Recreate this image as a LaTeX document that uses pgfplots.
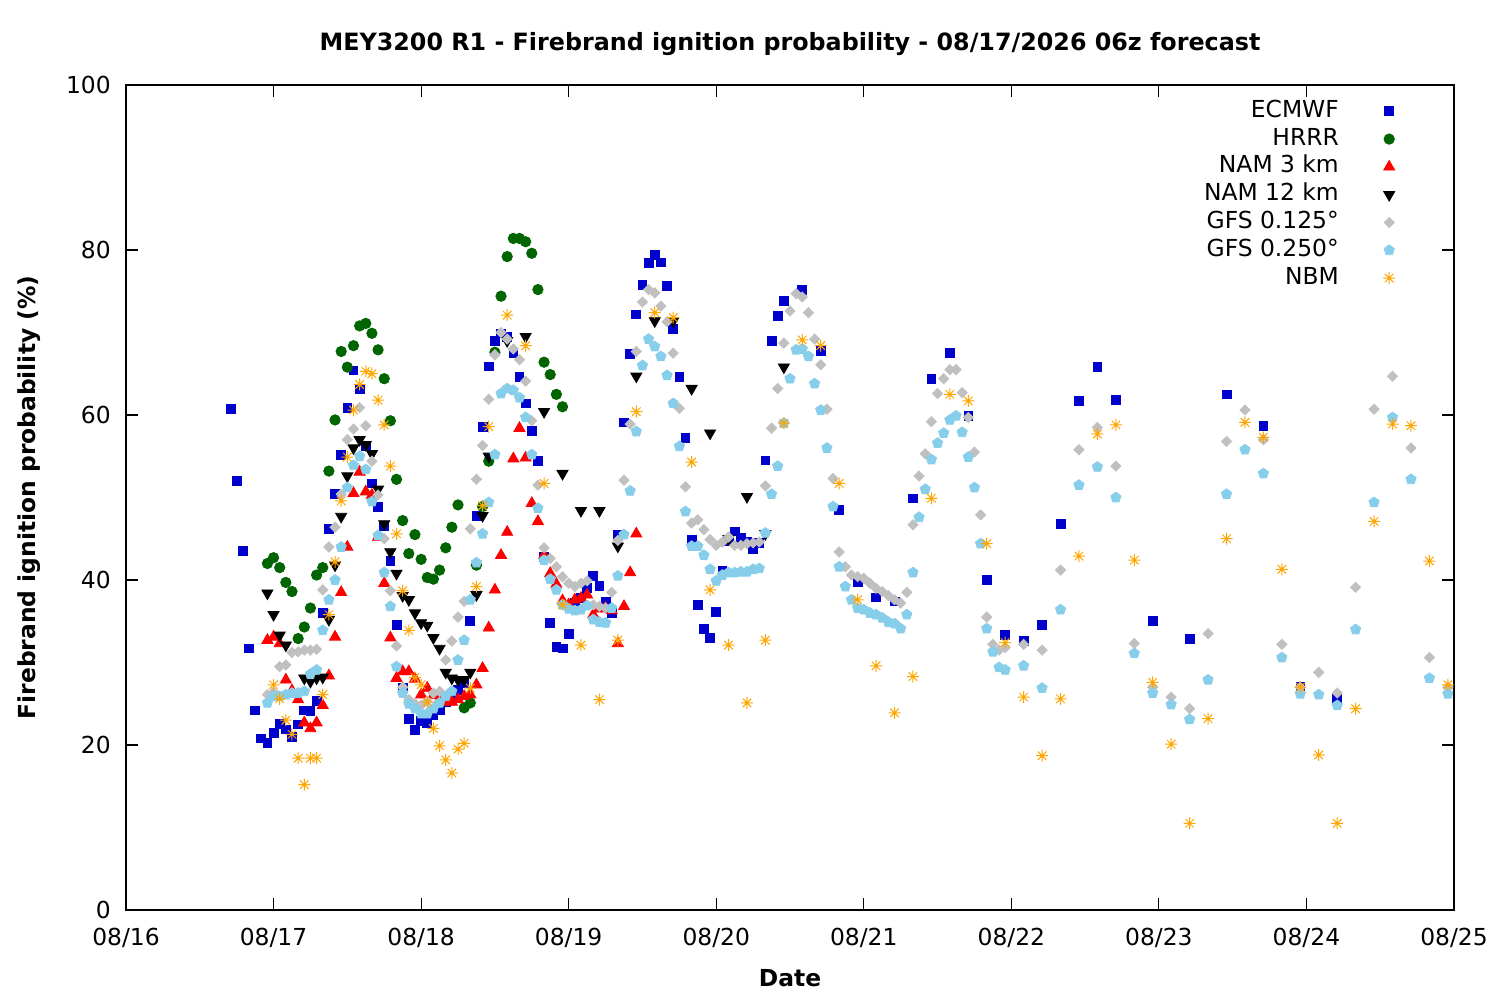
\documentclass[border=0pt]{standalone}
\usepackage{fontspec}
\setmainfont{DejaVu Sans}
\usepackage{pgfplots}
\pgfplotsset{compat=1.18}
\definecolor{ecm}{RGB}{0,0,205}
\definecolor{hrrr}{RGB}{0,100,0}
\definecolor{nam3}{RGB}{255,0,0}
\definecolor{gfsa}{RGB}{192,192,192}
\definecolor{gfsb}{RGB}{135,206,235}
\definecolor{nbm}{RGB}{255,165,0}
\pgfdeclareplotmark{ast8}{%
  \pgfpathmoveto{\pgfpoint{-\pgfplotmarksize}{0pt}}\pgfpathlineto{\pgfpoint{\pgfplotmarksize}{0pt}}%
  \pgfpathmoveto{\pgfpoint{0pt}{-\pgfplotmarksize}}\pgfpathlineto{\pgfpoint{0pt}{\pgfplotmarksize}}%
  \pgfpathmoveto{\pgfpoint{-0.707\pgfplotmarksize}{-0.707\pgfplotmarksize}}\pgfpathlineto{\pgfpoint{0.707\pgfplotmarksize}{0.707\pgfplotmarksize}}%
  \pgfpathmoveto{\pgfpoint{-0.707\pgfplotmarksize}{0.707\pgfplotmarksize}}\pgfpathlineto{\pgfpoint{0.707\pgfplotmarksize}{-0.707\pgfplotmarksize}}%
  \pgfusepathqstroke}
\newcommand{\fs}{\fontsize{11.7}{14}\selectfont}
\begin{document}
\begin{tikzpicture}
\useasboundingbox (-63pt,-45pt) rectangle (687pt,455pt);
\begin{axis}[
  scale only axis, width=664pt, height=412.5pt,
  xmin=0, xmax=216, ymin=0, ymax=100,
  xtick={0,24,...,216},
  xticklabels={08/16,08/17,08/18,08/19,08/20,08/21,08/22,08/23,08/24,08/25},
  ytick={0,20,...,100},
  tick align=inside, major tick length=5.8pt,
  axis line style={line width=0.6pt},
  every tick/.style={black, line width=0.6pt},
  tick label style={font=\fs},
  /pgf/number format/assume math mode=true,
  xticklabel style={yshift=-5.6pt},
  yticklabel style={xshift=-4.1pt},
  title={MEY3200 R1 - Firebrand ignition probability - 08/17/2026 06z forecast},
  title style={font=\bfseries\fontsize{11.9}{14}\selectfont, at={(axis description cs:0.5,1)}, anchor=base, yshift=11pt},
  xlabel={Date},
  xlabel style={font=\bfseries\fs, at={(axis description cs:0.5,0)}, anchor=base, yshift=-38.5pt},
  ylabel={Firebrand ignition probability (\%)},
  ylabel style={font=\bfseries\fs, at={(axis description cs:-0.0685,0.5)}, anchor=base, rotate=0},
  only marks, clip=false,
  legend plot pos=right, legend cell align=right,
  legend image code/.code={\path (0pt,0pt) (28pt,0pt); \draw[#1, only marks] plot coordinates {(24pt,0pt)};},
  legend style={at={(axis description cs:1,1)}, anchor=north east, xshift=-25pt, yshift=-4pt,
    draw=none, fill=none, font=\fs, row sep=0pt,
    nodes={inner sep=1pt, text height=9pt, text depth=2.9pt}},
]
\addplot[color=ecm, mark=square*, mark size=2.2pt] coordinates {
(17,60.7)(18,52.0)(19,43.5)(20,31.7)(21,24.2)(22,20.8)(23,20.3)(24,21.5)(25,22.6)(26,21.9)(27,21.0)(28,22.5)(29,24.2)(30,24.1)(31,25.3)(32,36.0)(33,46.2)(34,50.4)(35,55.2)(36,60.9)(37,65.4)(38,63.1)(39,56.2)(40,51.7)(41,48.9)(42,46.6)(43,42.3)(44,34.6)(45,26.9)(46,23.2)(47,21.8)(48,22.9)(49,22.7)(50,23.6)(51,24.3)(52,25.2)(53,26.0)(54,26.7)(55,27.5)(56,35.0)(57,47.8)(58,58.6)(59,65.9)(60,69.0)(61,69.9)(62,69.5)(63,67.5)(64,64.6)(65,61.4)(66,58.1)(67,54.4)(68,42.8)(69,34.8)(70,31.9)(71,31.7)(72,33.5)(73,37.2)(74,37.8)(75,39.0)(76,40.5)(77,39.3)(78,37.4)(79,36.0)(80,45.5)(81,59.1)(82,67.4)(83,72.2)(84,75.8)(85,78.4)(86,79.4)(87,78.5)(88,75.6)(89,70.4)(90,64.6)(91,57.2)(92,44.9)(93,37.0)(94,34.1)(95,33.0)(96,36.1)(97,41.1)(98,44.7)(99,45.9)(100,45.1)(101,44.6)(102,43.8)(103,44.5)(104,54.5)(105,69.0)(106,72.0)(107,73.8)(110,75.2)(113,67.8)(116,48.5)(119,39.8)(122,37.9)(125,37.4)(128,49.9)(131,64.4)(134,67.5)(137,59.9)(140,40.0)(143,33.3)(146,32.6)(149,34.6)(152,46.8)(155,61.7)(158,65.8)(161,61.8)(167,35.0)(173,32.9)(179,62.5)(185,58.7)(191,27.1)(197,25.6)
};
\addlegendentry{ECMWF}
\addplot[color=hrrr, mark=*, mark size=2.6pt] coordinates {
(23,42.0)(24,42.7)(25,41.5)(26,39.7)(27,38.6)(28,32.9)(29,34.3)(30,36.6)(31,40.6)(32,41.5)(33,53.2)(34,59.4)(35,67.7)(36,65.8)(37,68.4)(38,70.8)(39,71.1)(40,69.9)(41,67.9)(42,64.4)(43,59.3)(44,52.2)(45,47.2)(46,43.2)(47,45.5)(48,42.5)(49,40.3)(50,40.1)(51,41.2)(52,43.9)(53,46.4)(54,49.1)(55,24.5)(56,25.1)(57,41.8)(58,48.9)(59,54.4)(60,67.6)(61,74.4)(62,79.2)(63,81.4)(64,81.4)(65,81.0)(66,79.6)(67,75.2)(68,66.4)(69,64.9)(70,62.5)(71,61.0)
};
\addlegendentry{HRRR}
\addplot[color=nam3, mark=triangle*, mark size=3.2pt] coordinates {
(23,32.7)(24,33.1)(25,32.3)(26,27.9)(27,26.6)(28,25.5)(29,22.7)(30,22.0)(31,22.7)(32,24.8)(33,28.4)(34,33.1)(35,38.5)(36,44.0)(37,50.5)(38,53.1)(39,50.7)(40,50.3)(41,45.2)(42,39.6)(43,33.0)(44,28.1)(45,28.9)(46,28.9)(47,28.0)(48,26.1)(49,26.9)(50,26.0)(51,25.5)(52,25.2)(53,25.2)(54,25.5)(55,25.9)(56,26.1)(57,27.3)(58,29.3)(59,34.2)(60,38.8)(61,43.0)(62,45.8)(63,54.7)(64,58.4)(65,54.8)(66,49.3)(67,47.1)(68,43.0)(69,40.8)(70,39.5)(71,37.5)(72,37.0)(73,37.6)(74,37.8)(75,38.2)(76,35.8)(77,36.5)(78,36.6)(79,36.3)(80,32.3)(81,36.8)(82,40.9)(83,45.6)
};
\addlegendentry{NAM 3 km}
\addplot[color=black, mark=triangle*, mark size=3.2pt, mark options={rotate=180}] coordinates {
(23,38.4)(24,35.8)(25,33.3)(26,32.1)(29,28.1)(30,27.7)(31,28.1)(32,28.2)(33,35.2)(34,41.8)(35,47.7)(36,52.6)(37,56.0)(38,57.0)(39,56.4)(40,55.3)(41,51.0)(42,46.8)(43,43.4)(44,40.8)(45,38.1)(46,37.6)(47,36.0)(48,34.8)(49,34.5)(50,33.0)(51,31.7)(52,28.8)(53,28.1)(54,27.9)(55,27.9)(56,28.8)(57,38.2)(58,47.8)(59,55.0)(62,69.0)(65,69.5)(68,60.4)(71,52.9)(74,48.4)(77,48.4)(80,44.1)(83,64.7)(86,71.4)(89,71.4)(92,63.2)(95,57.8)(98,45.0)(101,50.1)(104,45.6)(107,65.8)
};
\addlegendentry{NAM 12 km}
\addplot[color=gfsa, mark=square*, mark size=1.8pt, mark options={rotate=45}] coordinates {
(23,26.1)(24,26.4)(25,29.5)(26,29.7)(27,31.2)(28,31.3)(29,31.5)(30,31.5)(31,31.6)(32,38.8)(33,44.0)(34,46.4)(35,50.4)(36,57.0)(37,58.3)(38,60.9)(39,58.7)(40,54.4)(41,50.3)(42,45.0)(43,38.7)(44,32.0)(45,27.0)(46,25.5)(47,25.0)(48,24.8)(49,25.3)(50,26.3)(51,26.5)(52,30.3)(53,32.6)(54,35.5)(55,37.4)(56,46.2)(57,52.2)(58,56.3)(59,61.9)(60,67.3)(61,70.0)(62,69.2)(63,68.0)(64,66.7)(65,64.1)(66,59.3)(67,51.5)(68,43.9)(69,42.6)(70,41.6)(71,40.4)(72,39.6)(73,39.2)(74,39.6)(75,39.9)(76,37.0)(77,36.8)(78,36.6)(79,38.5)(80,44.8)(81,52.1)(82,58.9)(83,67.7)(84,73.7)(85,75.2)(86,74.8)(87,73.2)(88,71.3)(89,67.5)(90,60.8)(91,51.3)(92,46.9)(93,47.3)(94,46.1)(95,44.9)(96,44.2)(97,44.6)(98,45.2)(99,44.2)(100,44.2)(101,44.4)(102,44.5)(103,44.6)(104,51.4)(105,58.4)(106,63.2)(107,68.7)(108,72.6)(109,74.7)(110,74.3)(111,72.4)(112,69.2)(113,66.1)(114,60.7)(115,52.3)(116,43.4)(117,41.6)(118,40.6)(119,40.4)(120,40.2)(121,39.6)(122,39.0)(123,38.6)(124,38.1)(125,37.6)(126,37.2)(127,38.5)(128,46.7)(129,52.6)(130,55.3)(131,59.2)(132,62.6)(133,64.4)(134,65.5)(135,65.5)(136,62.7)(137,59.7)(138,55.5)(139,47.9)(140,35.5)(141,32.2)(142,31.5)(143,31.8)(146,32.2)(149,31.5)(152,41.2)(155,55.8)(158,58.5)(161,53.8)(164,32.3)(167,27.0)(170,25.8)(173,24.4)(176,33.5)(179,56.8)(182,60.6)(185,57.0)(188,32.2)(191,27.0)(194,28.8)(197,26.3)(200,39.1)(203,60.7)(206,64.7)(209,56.0)(212,30.6)(215,27.0)
};
\addlegendentry{GFS 0.125°}
\addplot[color=gfsb, mark=pentagon*, mark size=2.7pt] coordinates {
(23,25.1)(24,25.9)(25,25.9)(26,26.1)(27,26.3)(28,26.3)(29,26.5)(30,28.6)(31,29.1)(32,33.9)(33,37.6)(34,40.0)(35,44.0)(36,51.2)(37,53.9)(38,55.0)(39,53.4)(40,49.5)(41,45.4)(42,40.9)(43,36.8)(44,29.5)(45,26.3)(46,25.0)(47,24.4)(48,23.8)(49,23.8)(50,24.4)(51,25.1)(52,25.9)(53,26.5)(54,30.3)(55,32.7)(56,37.6)(57,42.1)(58,45.6)(59,49.4)(60,55.2)(61,62.6)(62,63.2)(63,63.0)(64,62.1)(65,59.7)(66,55.2)(67,48.7)(68,42.4)(69,40.1)(70,38.8)(71,37.0)(72,36.5)(73,36.3)(74,36.4)(75,36.9)(76,35.2)(77,34.9)(78,34.8)(79,36.6)(80,40.5)(81,45.5)(82,50.8)(83,58.0)(84,66.0)(85,69.2)(86,68.3)(87,67.1)(88,64.8)(89,61.4)(90,56.2)(91,48.3)(92,44.1)(93,44.1)(94,43.0)(95,41.3)(96,39.9)(97,40.6)(98,40.9)(99,40.9)(100,41.0)(101,41.0)(102,41.3)(103,41.4)(104,45.7)(105,50.4)(106,53.8)(107,59.0)(108,64.4)(109,67.9)(110,68.0)(111,67.1)(112,63.8)(113,60.6)(114,56.0)(115,48.9)(116,41.6)(117,39.2)(118,37.6)(119,36.6)(120,36.4)(121,36.0)(122,35.8)(123,35.4)(124,34.9)(125,34.7)(126,34.1)(127,35.8)(128,40.9)(129,47.6)(130,51.0)(131,54.6)(132,56.6)(133,57.8)(134,59.4)(135,59.9)(136,57.9)(137,54.9)(138,51.2)(139,44.4)(140,34.1)(141,31.3)(142,29.4)(143,29.1)(146,29.6)(149,26.9)(152,36.4)(155,51.5)(158,53.7)(161,50.0)(164,31.1)(167,26.3)(170,24.9)(173,23.1)(176,27.9)(179,50.4)(182,55.8)(185,52.9)(188,30.6)(191,26.2)(194,26.1)(197,24.8)(200,34.0)(203,49.4)(206,59.7)(209,52.2)(212,28.1)(215,26.2)
};
\addlegendentry{GFS 0.250°}
\addplot[color=nbm, mark=ast8, mark size=3.0pt, mark options={line width=0.5pt}] coordinates {
(24,27.3)(25,25.6)(26,23.0)(27,21.3)(28,18.4)(29,15.2)(30,18.4)(31,18.4)(32,26.1)(33,35.8)(34,42.2)(35,49.6)(36,54.9)(37,60.6)(38,63.7)(39,65.3)(40,65.0)(41,61.8)(42,58.8)(43,53.8)(44,45.6)(45,38.7)(46,33.9)(47,28.2)(48,27.3)(49,25.2)(50,22.0)(51,19.9)(52,18.2)(53,16.6)(54,19.5)(55,20.2)(56,26.9)(57,39.2)(58,49.0)(59,58.6)(62,72.1)(65,68.4)(68,51.7)(71,37.0)(74,32.1)(77,25.5)(80,32.7)(83,60.4)(86,72.4)(89,71.8)(92,54.3)(95,38.8)(98,32.1)(101,25.1)(104,32.7)(107,59.0)(110,69.1)(113,68.4)(116,51.7)(119,37.6)(122,29.6)(125,23.9)(128,28.3)(131,49.9)(134,62.5)(137,61.7)(140,44.4)(143,32.4)(146,25.8)(149,18.7)(152,25.6)(155,42.9)(158,57.7)(161,58.8)(164,42.4)(167,27.6)(170,20.1)(173,10.5)(176,23.2)(179,45.0)(182,59.1)(185,57.3)(188,41.3)(191,27.0)(194,18.8)(197,10.5)(200,24.4)(203,47.1)(206,58.9)(209,58.7)(212,42.3)(215,27.3)
};
\addlegendentry{NBM}
\end{axis}
\end{tikzpicture}
\end{document}
